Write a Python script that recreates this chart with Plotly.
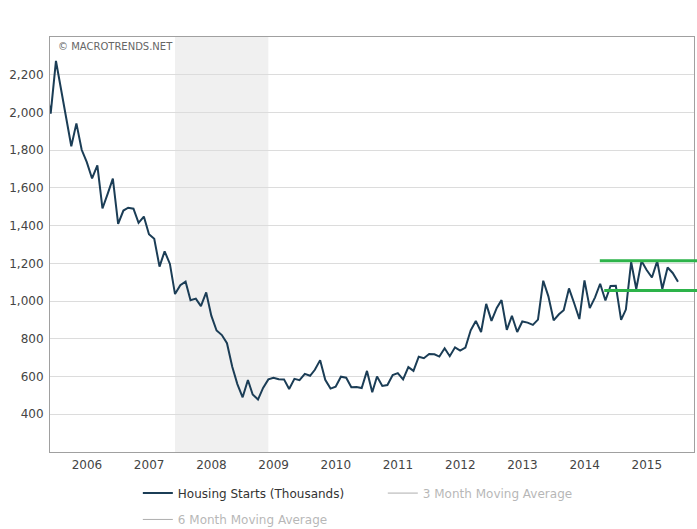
import pandas as pd
import plotly.graph_objects as go

# ---- data ----
start_month = "2005-11-01"
housing_starts = [
    2147, 1994,
    2273, 2119, 1969, 1821, 1942, 1802, 1737, 1650, 1720, 1491, 1570, 1649,   # 2006
    1409, 1480, 1495, 1490, 1415, 1448, 1354, 1330, 1183, 1264, 1197, 1037,   # 2007
    1084, 1103, 1005, 1013, 973, 1046, 923, 844, 820, 777, 652, 560,          # 2008
    490, 582, 505, 478, 540, 585, 594, 586, 585, 534, 588, 581,               # 2009
    614, 604, 636, 687, 583, 536, 546, 599, 594, 543, 545, 539,               # 2010
    630, 517, 600, 550, 555, 608, 618, 585, 650, 630, 705, 697,               # 2011
    720, 718, 706, 750, 708, 755, 738, 754, 845, 895, 836, 985,               # 2012
    895, 964, 1005, 847, 922, 836, 892, 886, 874, 902, 1108, 1025,            # 2013
    898, 930, 952, 1067, 990, 905, 1110, 963, 1020, 1092, 1003, 1080,         # 2014
    1081, 900, 955, 1207, 1064, 1212, 1165, 1125, 1212, 1064, 1178, 1149,     # 2015
    1103,                                                                      # 2016
]
dates = pd.date_range(start_month, periods=len(housing_starts), freq="MS")

ma3 = pd.Series(housing_starts).rolling(3).mean().tolist()
ma6 = pd.Series(housing_starts).rolling(6).mean().tolist()

recession_start = "2007-12-01"
recession_end = "2009-06-01"

year_labels = [str(y) for y in range(2006, 2016)]
year_tick_dates = [f"{y}-07-02" for y in range(2006, 2016)]
y_tick_values = [400, 600, 800, 1000, 1200, 1400, 1600, 1800, 2000, 2200]

x_range = ["2005-11-27", "2016-04-04"]
y_range = [200, 2400]

# drawn resistance/support levels
level_values = [1214, 1056]
level_starts = ["2014-09-29", "2014-10-25"]

FONT = "DejaVu Sans"

fig = go.Figure()

fig.add_trace(go.Scatter(
    x=dates, y=housing_starts, mode="lines",
    name="Housing Starts (Thousands)",
    line=dict(color="#1b3d56", width=2),
    legend="legend",
    hoverinfo="x+y",
))
fig.add_trace(go.Scatter(
    x=dates, y=ma3, mode="lines",
    name="3 Month Moving Average",
    line=dict(color="#5e5e5e", width=1),
    visible="legendonly",
    legend="legend2",
))
fig.add_trace(go.Scatter(
    x=dates, y=ma6, mode="lines",
    name="6 Month Moving Average",
    line=dict(color="#5e5e5e", width=1),
    visible="legendonly",
    legend="legend3",
))

x0_ts = pd.Timestamp(x_range[0])
x_span = pd.Timestamp(x_range[1]) - x0_ts

shapes = [dict(
    type="rect", xref="x", yref="paper",
    x0=recession_start, x1=recession_end, y0=0, y1=1,
    fillcolor="#f0f0f0", line=dict(width=0), layer="below",
)]
for val, st in zip(level_values, level_starts):
    shapes.append(dict(
        type="line", xref="paper", yref="y",
        x0=(pd.Timestamp(st) - x0_ts) / x_span,
        x1=1.01, y0=val, y1=val,
        line=dict(color="#2db34a", width=3), layer="above",
    ))

legend_common = dict(
    orientation="v", bgcolor="rgba(0,0,0,0)", borderwidth=0,
    xanchor="left", yanchor="middle",
)

fig.update_layout(
    width=697, height=529, autosize=False,
    margin=dict(l=50, r=3, t=37, b=77, autoexpand=False),
    paper_bgcolor="white", plot_bgcolor="white",
    font=dict(family=FONT, size=12, color="#555555"),
    showlegend=True,
    shapes=shapes,
    legend=dict(**legend_common, x=0.1364, y=-0.099,
                font=dict(family=FONT, size=12, color="#333333")),
    legend2=dict(**legend_common, x=0.5168, y=-0.099,
                 font=dict(family=FONT, size=12, color="#707070")),
    legend3=dict(**legend_common, x=0.1364, y=-0.1625,
                 font=dict(family=FONT, size=12, color="#707070")),
    annotations=[dict(
        text="© MACROTRENDS.NET", xref="paper", yref="paper",
        x=0.0093, y=0.9766, xanchor="left", yanchor="middle",
        showarrow=False, font=dict(family=FONT, size=10, color="#666666"),
    )],
    xaxis=dict(
        type="date", range=x_range,
        tickvals=year_tick_dates, ticktext=year_labels,
        showgrid=False, zeroline=False,
        showline=True, mirror=True, linecolor="#a0a0a0", linewidth=1,
        ticks="", ticklabelstandoff=2,
        tickfont=dict(family=FONT, size=12, color="#444444"),
    ),
    yaxis=dict(
        range=y_range, tickvals=y_tick_values, tickformat=",",
        showgrid=True, gridcolor="#dcdcdc", gridwidth=1,
        zeroline=False,
        showline=True, mirror=True, linecolor="#a0a0a0", linewidth=1,
        ticks="", ticklabelstandoff=3,
        tickfont=dict(family=FONT, size=12, color="#444444"),
    ),
)

fig.write_html(
    "out.html",
    config={"responsive": False, "displayModeBar": False},
    post_script="document.body.style.margin='0';document.body.style.overflow='hidden';",
)
